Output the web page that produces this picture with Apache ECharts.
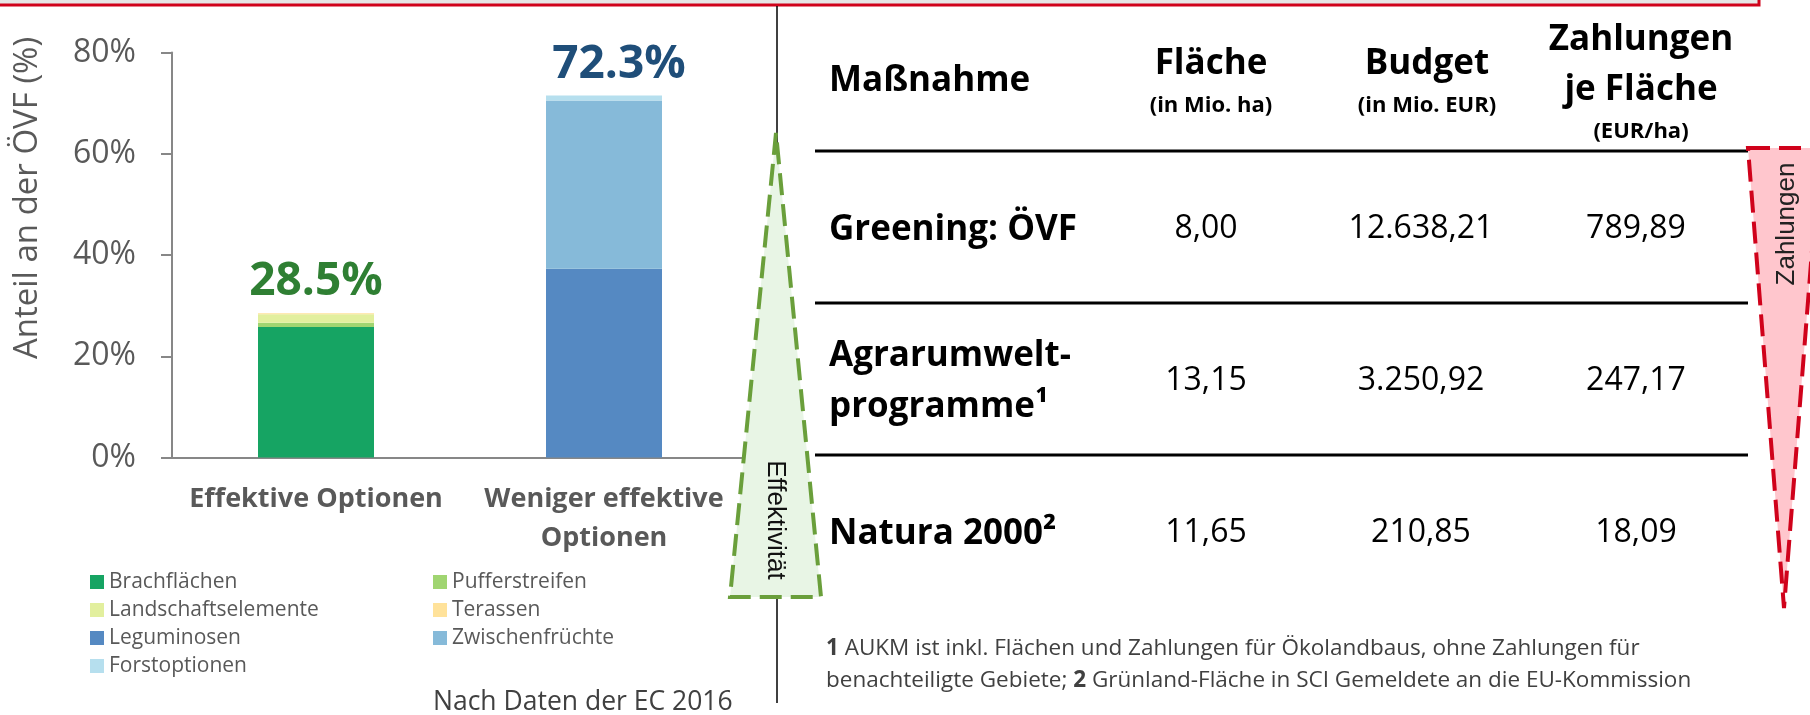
<!DOCTYPE html>
<html>
<head>
<meta charset="utf-8">
<title>ÖVF Optionen und Zahlungen</title>
<script src="https://cdn.jsdelivr.net/npm/echarts@6/dist/echarts.min.js"></script>
<style>
  html, body { margin: 0; padding: 0; background: #fff; }
  #chart { width: 1810px; height: 715px; }
</style>
</head>
<body>
<div id="chart"></div>
<script>
// Balken: Anteil an der ÖVF (%)
const categories = ['Effektive Optionen', 'Weniger effektive\nOptionen']
const brachflaechen = [25.8, 0]
const pufferstreifen = [0.8, 0]
const landschaftselemente = [1.7, 0]
const terassen = [0.2, 0]
const leguminosen = [0, 37.3]
const zwischenfruechte = [0, 33.2]
const forstoptionen = [0, 1.0]
const totals = ['28.5%', '72.3%']

// Tabelle
const tableHeads = ['Maßnahme', 'Fläche', 'Budget', 'Zahlungen\nje Fläche']
const tableUnits = ['', '(in Mio. ha)', '(in Mio. EUR)', '(EUR/ha)']
const measures = ['Greening: ÖVF', 'Agrarumwelt-\nprogramme¹', 'Natura 2000²']
const flaeche = ['8,00', '13,15', '11,65']
const budget = ['12.638,21', '3.250,92', '210,85']
const zahlungenJeFlaeche = ['789,89', '247,17', '18,09']

const FONT = '"Open Sans", "Noto Sans", sans-serif'
const ARIAL = '"Liberation Sans", Arial, sans-serif'

const seriesDefs = [
  { name: 'Brachflächen', data: brachflaechen, color: '#16A463' },
  { name: 'Pufferstreifen', data: pufferstreifen, color: '#A0D571' },
  { name: 'Landschaftselemente', data: landschaftselemente, color: '#E2EF9E' },
  { name: 'Terassen', data: terassen, color: '#FFE29A' },
  { name: 'Leguminosen', data: leguminosen, color: '#5589C2' },
  { name: 'Zwischenfrüchte', data: zwischenfruechte, color: '#86BAD9' },
  { name: 'Forstoptionen', data: forstoptionen, color: '#B6DFEE' }
]
const totalColors = ['#2F7F33', '#1F4E79']
const totalOffsets = [[0, 0], [15, 0]]

// oberstes Segment je Balken bekommt die Summe als Label
const topIndex = categories.map((c, i) => {
  let idx = -1
  seriesDefs.forEach((s, k) => { if (s.data[i] > 0) idx = k })
  return idx
})

const series = seriesDefs.map((s, k) => ({
  name: s.name,
  type: 'bar',
  stack: 'total',
  barWidth: 116,
  itemStyle: { color: s.color },
  data: s.data.map((v, i) => {
    if (!v) return '-'
    if (topIndex[i] !== k) return v
    return {
      value: v,
      label: {
        show: true,
        position: 'top',
        distance: 8,
        offset: totalOffsets[i],
        formatter: totals[i],
        fontFamily: FONT,
        fontWeight: 'bold',
        fontSize: 46,
        color: totalColors[i]
      }
    }
  })
}))

const legendText = { fontFamily: FONT, fontSize: 21, color: '#595959', lineHeight: 28 }

// Tabelle als Grafik
const colHead = [829, 1211, 1427, 1641]
const colVal = [1206, 1421, 1636]
const rowY = [229, 381, 533]
const lineY = [151, 303, 455]

const graphics = []
// roter Rahmen oben
graphics.push({
  type: 'rect', z: 1,
  shape: { x: -10, y: -30, width: 1769, height: 35 },
  style: { fill: '#E7E6E6', stroke: '#D0021B', lineWidth: 3 }
})
// Trennlinie
graphics.push({
  type: 'line', z: 1,
  shape: { x1: 777, y1: 6, x2: 777, y2: 703 },
  style: { stroke: '#000', lineWidth: 1.5 }
})
// Dreieck Effektivität
graphics.push({
  type: 'polygon', z: 10,
  shape: { points: [[776, 133], [730, 597], [821, 597]] },
  style: { fill: '#E8F5E5', stroke: '#6A9F3B', lineWidth: 4, lineDash: [22, 9] }
})
graphics.push({
  type: 'text', z: 11, x: 775, y: 520, rotation: -Math.PI / 2,
  style: { text: 'Effektivität', fontFamily: ARIAL, fontSize: 26, fill: '#111', align: 'center', verticalAlign: 'middle' }
})
// Dreieck Zahlungen
graphics.push({
  type: 'polygon', z: 10,
  shape: { points: [[1748, 148], [1820, 148], [1784, 608]] },
  style: { fill: '#FFC6CD', stroke: '#D0021B', lineWidth: 4, lineDash: [22, 9] }
})
graphics.push({
  type: 'text', z: 11, x: 1787, y: 224, rotation: Math.PI / 2,
  style: { text: 'Zahlungen', fontFamily: ARIAL, fontSize: 26, fill: '#222', align: 'center', verticalAlign: 'middle' }
})
// y-Achsentitel
graphics.push({
  type: 'text', z: 3, x: 28, y: 198, rotation: Math.PI / 2,
  style: { text: 'Anteil an der ÖVF (%)', fontFamily: FONT, fontSize: 33, fill: '#595959', align: 'center', verticalAlign: 'middle' }
})
// Quelle
graphics.push({
  type: 'text', z: 3, x: 433, y: 702,
  style: { text: 'Nach Daten der EC 2016', fontFamily: FONT, fontSize: 26.5, fill: '#404040', align: 'left', verticalAlign: 'middle' }
})
// Tabellenkopf
tableHeads.forEach((t, j) => {
  const multi = t.indexOf('\n') >= 0
  graphics.push({
    type: 'text', z: 3, x: colHead[j], y: j === 0 ? 81 : (multi ? 65 : 64),
    style: {
      text: t, fontFamily: FONT, fontWeight: 'bold', fontSize: 35, lineHeight: 50,
      fill: '#000', align: j === 0 ? 'left' : 'center', verticalAlign: 'middle'
    }
  })
  if (tableUnits[j]) {
    graphics.push({
      type: 'text', z: 3, x: colHead[j], y: j === 3 ? 132 : 106,
      style: { text: tableUnits[j], fontFamily: FONT, fontWeight: 'bold', fontSize: 22, fill: '#000', align: 'center', verticalAlign: 'middle' }
    })
  }
})
lineY.forEach(y => {
  graphics.push({
    type: 'line', z: 3,
    shape: { x1: 815, y1: y, x2: 1748, y2: y },
    style: { stroke: '#000', lineWidth: 3 }
  })
})
measures.forEach((m, i) => {
  graphics.push({
    type: 'text', z: 3, x: colHead[0], y: rowY[i] + 1,
    style: { text: m, fontFamily: FONT, fontWeight: 'bold', fontSize: 35, lineHeight: 51, fill: '#000', align: 'left', verticalAlign: 'middle' }
  })
  ;[flaeche, budget, zahlungenJeFlaeche].forEach((col, j) => {
    graphics.push({
      type: 'text', z: 3, x: colVal[j], y: rowY[i],
      style: { text: col[i], fontFamily: FONT, fontSize: 32, fill: '#000', align: 'center', verticalAlign: 'middle' }
    })
  })
})
// Fußnote
graphics.push({
  type: 'text', z: 3, x: 826, y: 665,
  style: {
    text: '{b|1} AUKM ist inkl. Flächen und Zahlungen für Ökolandbaus, ohne Zahlungen für\nbenachteiligte Gebiete; {b|2} Grünland-Fläche in SCI Gemeldete an die EU-Kommission',
    fontFamily: FONT, fontSize: 22.5, lineHeight: 32, fill: '#404040', align: 'left', verticalAlign: 'middle',
    rich: { b: { fontFamily: FONT, fontSize: 22.5, fontWeight: 'bold', fill: '#404040', lineHeight: 32 } }
  }
})

const chart = echarts.init(document.getElementById('chart'))
chart.setOption({
  animation: false,
  backgroundColor: '#fff',
  grid: { left: 172, top: 52.5, width: 576, height: 405, containLabel: false },
  legend: [
    {
      orient: 'vertical', left: 90, top: 568, padding: 0, itemGap: 0,
      itemWidth: 14, itemHeight: 14, icon: 'rect', selectedMode: false,
      textStyle: legendText,
      data: ['Brachflächen', 'Landschaftselemente', 'Leguminosen', 'Forstoptionen']
    },
    {
      orient: 'vertical', left: 433, top: 568, padding: 0, itemGap: 0,
      itemWidth: 14, itemHeight: 14, icon: 'rect', selectedMode: false,
      textStyle: legendText,
      data: ['Pufferstreifen', 'Terassen', 'Zwischenfrüchte']
    }
  ],
  xAxis: {
    type: 'category',
    data: categories,
    axisLine: { lineStyle: { color: '#878787', width: 2 } },
    axisTick: { show: false },
    axisLabel: {
      margin: 22, fontFamily: FONT, fontWeight: 'bold', fontSize: 27,
      lineHeight: 39, color: '#595959', interval: 0
    }
  },
  yAxis: {
    type: 'value',
    min: 0, max: 80, interval: 20,
    axisLine: { show: true, lineStyle: { color: '#878787', width: 2 } },
    axisTick: { show: true, length: 11, lineStyle: { color: '#878787', width: 2 } },
    splitLine: { show: false },
    axisLabel: { margin: 36, formatter: '{value}%', fontFamily: FONT, fontSize: 32, color: '#595959' }
  },
  series: series,
  graphic: graphics
})
</script>
</body>
</html>
